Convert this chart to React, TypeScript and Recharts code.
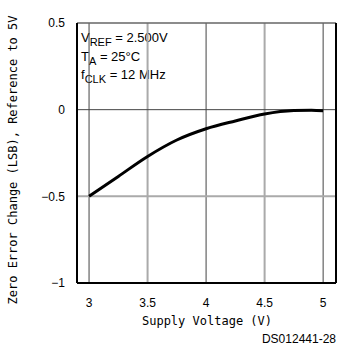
import { LineChart, Line, XAxis, YAxis, ReferenceLine, Customized } from "recharts";

const voltage = [3, 3.25, 3.5, 3.75, 4, 4.25, 4.5, 4.75, 4.9, 5];
const zeroError = [-0.5, -0.385, -0.27, -0.175, -0.11, -0.065, -0.025, -0.005, -0.003, -0.006];
const xTicks = [3, 3.5, 4, 4.5, 5];
const yTicks = [-1, -0.5, 0, 0.5];
const xGrid = [3, 3.5, 4, 4.5, 5];
const yGrid = [-0.5, 0];

const data = voltage.map((v, i) => ({ v, err: zeroError[i] }));

const mono = "DejaVu Sans Mono";
const sans = "Liberation Sans";

// half-step grid lines are drawn lighter and a bit thicker
const gridStroke = (val: number) => (Number.isInteger(val) ? "#444" : "#aaa");
const gridWidth = (val: number) => (Number.isInteger(val) ? 1 : 2);

const fmtY = (v: number) => (v < 0 ? "\u2212" + String(-v) : String(v));

const Notes = () => (
  <g fontFamily={sans} fontSize={13} fill="#000">
    <text x={81} y={42}>
      V<tspan fontSize={11} dy={4}>REF</tspan>
      <tspan dy={-4}> = 2.500V</tspan>
    </text>
    <text x={81} y={61}>
      T<tspan fontSize={11} dy={4}>A</tspan>
      <tspan dy={-4}> = 25°C</tspan>
    </text>
    <text x={81} y={79}>
      f<tspan fontSize={11} dy={4}>CLK</tspan>
      <tspan dy={-4}> = 12 MHz</tspan>
    </text>
    <text x={17} y={160} fontFamily={mono} fontSize={12} textAnchor="middle" transform="rotate(-90 17 160)">
      Zero Error Change (LSB), Reference to 5V
    </text>
    <text x={207} y={325} fontFamily={mono} fontSize={12} textAnchor="middle">
      Supply Voltage (V)
    </text>
    <text x={336} y={343} fontSize={12} textAnchor="end">
      DS012441-28
    </text>
  </g>
);

export default function App() {
  return (
    <div style={{ position: "absolute", left: 0, top: 0, background: "#fff" }}>
      <LineChart width={341} height={356} data={data} margin={{ top: 23, right: 5, bottom: 0, left: 0 }}>
        {xGrid.map((g) => (
          <ReferenceLine key={"x" + g} x={g} stroke={gridStroke(g)} strokeWidth={gridWidth(g)} />
        ))}
        {yGrid.map((g) => (
          <ReferenceLine key={"y" + g} y={g} stroke={gridStroke(g)} strokeWidth={gridWidth(g)} />
        ))}
        <ReferenceLine y={0.5} stroke="#666" strokeWidth={1.5} />
        <ReferenceLine x={5.11} stroke="#000" strokeWidth={2} />
        <XAxis
          dataKey="v"
          type="number"
          domain={[2.897, 5.11]}
          ticks={xTicks}
          tickLine={false}
          axisLine={{ stroke: "#000", strokeWidth: 2 }}
          height={73}
          tick={{ fontFamily: sans, fontSize: 12, fill: "#000" }}
          tickMargin={9}
        />
        <YAxis
          type="number"
          domain={[-1, 0.5]}
          ticks={yTicks}
          tickFormatter={fmtY}
          tickLine={false}
          axisLine={{ stroke: "#000", strokeWidth: 2 }}
          width={77}
          tick={{ fontFamily: sans, fontSize: 12, fill: "#000" }}
          tickMargin={6}
        />
        <Line
          dataKey="err"
          type="monotone"
          stroke="#000"
          strokeWidth={3}
          dot={false}
          isAnimationActive={false}
        />
        <Customized component={Notes} />
      </LineChart>
    </div>
  );
}
